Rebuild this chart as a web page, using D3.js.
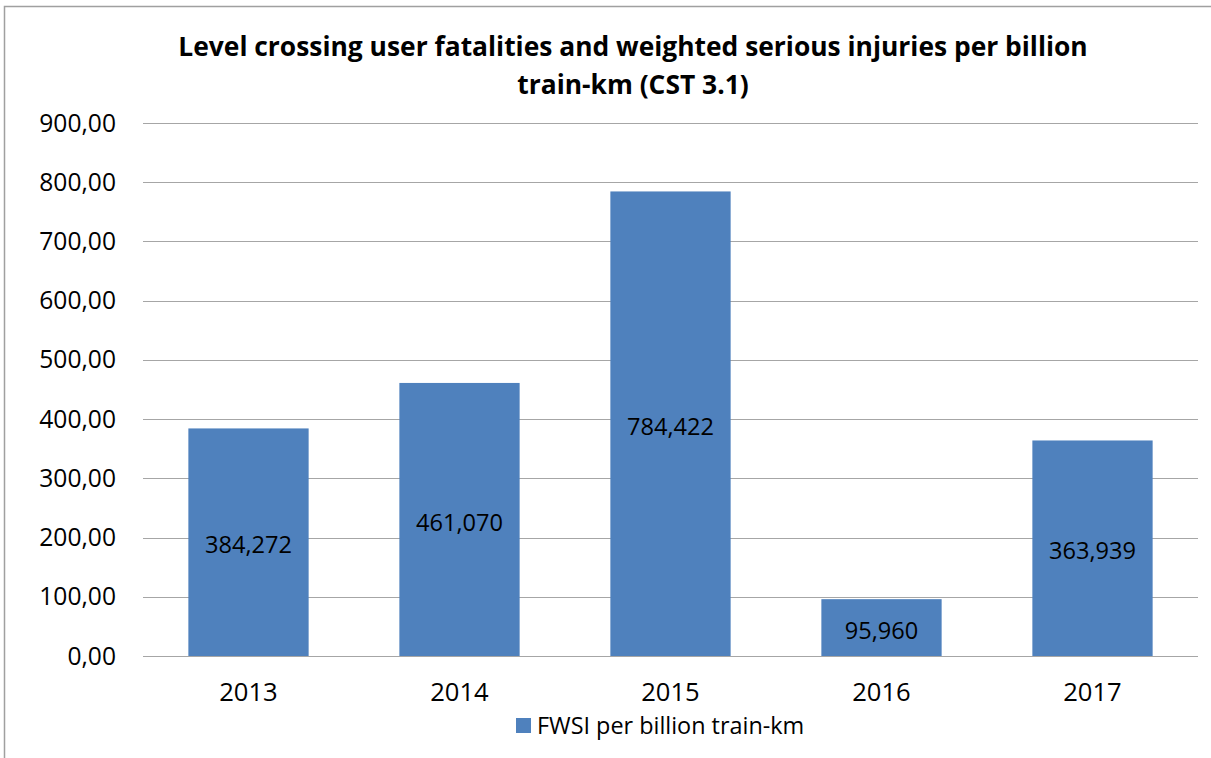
<!DOCTYPE html>
<html>
<head>
<meta charset="utf-8">
<script src="https://cdn.jsdelivr.net/npm/d3@7"></script>
<style>
  body { margin: 0; background: #fff; }
  svg text { font-family: "Open Sans", "Noto Sans", sans-serif; fill: #000; }
</style>
</head>
<body>
<svg width="1211" height="758"></svg>
<script>
const years = ["2013", "2014", "2015", "2016", "2017"];
const fwsi = [384.272, 461.070, 784.422, 95.960, 363.939];
const yTicks = [0, 100, 200, 300, 400, 500, 600, 700, 800, 900];
const titleLines = [
    "Level crossing user fatalities and weighted serious injuries per billion",
    "train-km (CST 3.1)",
];
const seriesName = "FWSI per billion train-km";

const svg = d3.select("svg");
const comma = (v, digits) => v.toFixed(digits).replace(".", ",");

// chart frame
svg.append("rect")
    .attr("x", 4.5).attr("y", 6.5)
    .attr("width", 1220).attr("height", 770)
    .attr("fill", "none").attr("stroke", "#a0a0a0").attr("stroke-width", 1.5);

const plot = { left: 143, right: 1198, top: 123, bottom: 656 };

const x = d3.scaleBand()
    .domain(years)
    .range([plot.left, plot.right])
    .paddingInner(0.43)
    .paddingOuter(0.215);

const y = d3.scaleLinear().domain([0, 900]).range([plot.bottom, plot.top]);

// gridlines
svg.append("g")
    .selectAll("line")
    .data(yTicks)
    .join("line")
    .attr("x1", plot.left).attr("x2", plot.right)
    .attr("y1", d => Math.round(y(d)) + 0.5).attr("y2", d => Math.round(y(d)) + 0.5)
    .attr("stroke", "#a6a6a6").attr("stroke-width", 1);

// y labels
svg.append("g")
    .selectAll("text")
    .data(yTicks)
    .join("text")
    .attr("x", 116).attr("y", d => y(d))
    .attr("dy", "0.35em")
    .attr("text-anchor", "end")
    .attr("font-size", 24.6)
    .text(d => comma(d, 2));

// bars
svg.append("g")
    .selectAll("rect")
    .data(years)
    .join("rect")
    .attr("x", d => x(d))
    .attr("width", x.bandwidth())
    .attr("y", (d, i) => y(fwsi[i]))
    .attr("height", (d, i) => y(0) - y(fwsi[i]))
    .attr("fill", "#4f81bd");

// value labels
svg.append("g")
    .selectAll("text")
    .data(years)
    .join("text")
    .attr("x", d => x(d) + x.bandwidth() / 2)
    .attr("y", (d, i) => (y(0) + y(fwsi[i])) / 2 + 3)
    .attr("dy", "0.35em")
    .attr("text-anchor", "middle")
    .attr("font-size", 23.6)
    .text((d, i) => comma(fwsi[i], 3));

// x labels
svg.append("g")
    .selectAll("text")
    .data(years)
    .join("text")
    .attr("x", d => x(d) + x.bandwidth() / 2)
    .attr("y", 692)
    .attr("dy", "0.35em")
    .attr("text-anchor", "middle")
    .attr("font-size", 25.6)
    .text(d => d);

// title
svg.append("g")
    .selectAll("text")
    .data(titleLines)
    .join("text")
    .attr("x", 633)
    .attr("y", (d, i) => 47 + i * 38)
    .attr("dy", "0.35em")
    .attr("text-anchor", "middle")
    .attr("font-size", 26.4)
    .attr("font-weight", "bold")
    .text(d => d);

// legend
const legend = svg.append("g").attr("transform", "translate(516,718)");
legend.append("rect").attr("width", 15).attr("height", 15).attr("fill", "#4f81bd");
legend.append("text")
    .attr("x", 21).attr("y", 7.5)
    .attr("dy", "0.35em")
    .attr("font-size", 23.4)
    .text(seriesName);
</script>
</body>
</html>
